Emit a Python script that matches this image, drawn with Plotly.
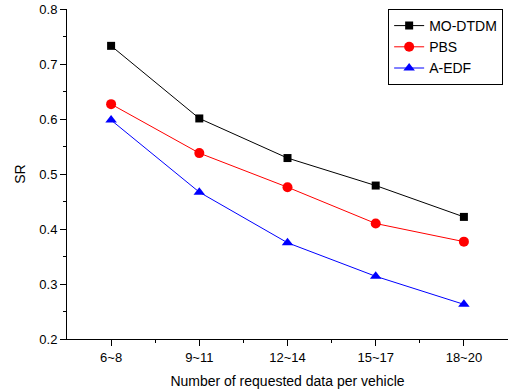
import plotly.graph_objects as go

categories = ["6~8", "9~11", "12~14", "15~17", "18~20"]
mo_dtdm = [0.733, 0.601, 0.529, 0.479, 0.422]
pbs = [0.627, 0.538, 0.476, 0.410, 0.377]
a_edf = [0.598, 0.467, 0.375, 0.314, 0.263]

xpos = list(range(len(categories)))

fig = go.Figure()
fig.add_trace(go.Scatter(x=xpos, y=mo_dtdm, name="MO-DTDM", mode="lines+markers",
                         line=dict(color="black", width=1),
                         marker=dict(symbol="square", size=8, color="black")))
fig.add_trace(go.Scatter(x=xpos, y=pbs, name="PBS", mode="lines+markers",
                         line=dict(color="red", width=1),
                         marker=dict(symbol="circle", size=10, color="red")))
fig.add_trace(go.Scatter(x=xpos, y=a_edf, name="A-EDF", mode="lines+markers",
                         line=dict(color="blue", width=1),
                         marker=dict(symbol="triangle-up", size=10, color="blue")))

fig.update_layout(
    width=508, height=392,
    margin=dict(l=67, r=0, t=9, b=53),
    paper_bgcolor="white", plot_bgcolor="white",
    font=dict(family="Liberation Sans, Arial, sans-serif", size=13, color="black"),
    showlegend=True,
    legend=dict(x=0.989, y=1.0, xanchor="right", yanchor="top",
                bordercolor="black", borderwidth=1, bgcolor="white",
                font=dict(size=14), tracegroupgap=0, itemwidth=30),
)
fig.update_xaxes(
    range=[-0.5, 4.5], tickmode="array", tickvals=xpos, ticktext=categories,
    showline=True, linecolor="black", linewidth=1, mirror=False,
    ticks="outside", ticklen=6, tickwidth=1, tickcolor="black",
    showgrid=False, zeroline=False,
    minor=dict(tickmode="array", tickvals=[0.5, 1.5, 2.5, 3.5], ticks="outside",
               ticklen=3, tickwidth=1, tickcolor="black", showgrid=False),
    title=dict(text="Number of requested data per vehicle", font=dict(size=14), standoff=12),
    automargin=False,
)
fig.update_yaxes(
    range=[0.2, 0.8], tickmode="array", tickvals=[0.2, 0.3, 0.4, 0.5, 0.6, 0.7, 0.8],
    ticktext=["0.2", "0.3", "0.4", "0.5", "0.6", "0.7", "0.8"],
    showline=True, linecolor="black", linewidth=1, mirror=False,
    ticks="outside", ticklen=6, tickwidth=1, tickcolor="black",
    showgrid=False, zeroline=False,
    minor=dict(tickmode="array", tickvals=[0.25, 0.35, 0.45, 0.55, 0.65, 0.75], ticks="outside",
               ticklen=3, tickwidth=1, tickcolor="black", showgrid=False),
    title=dict(text="SR", font=dict(size=14), standoff=10),
    automargin=False,
)

fig.write_html("out.html",
               config={"displayModeBar": False},
               post_script="document.body.style.margin='0';document.body.style.overflow='hidden';")
